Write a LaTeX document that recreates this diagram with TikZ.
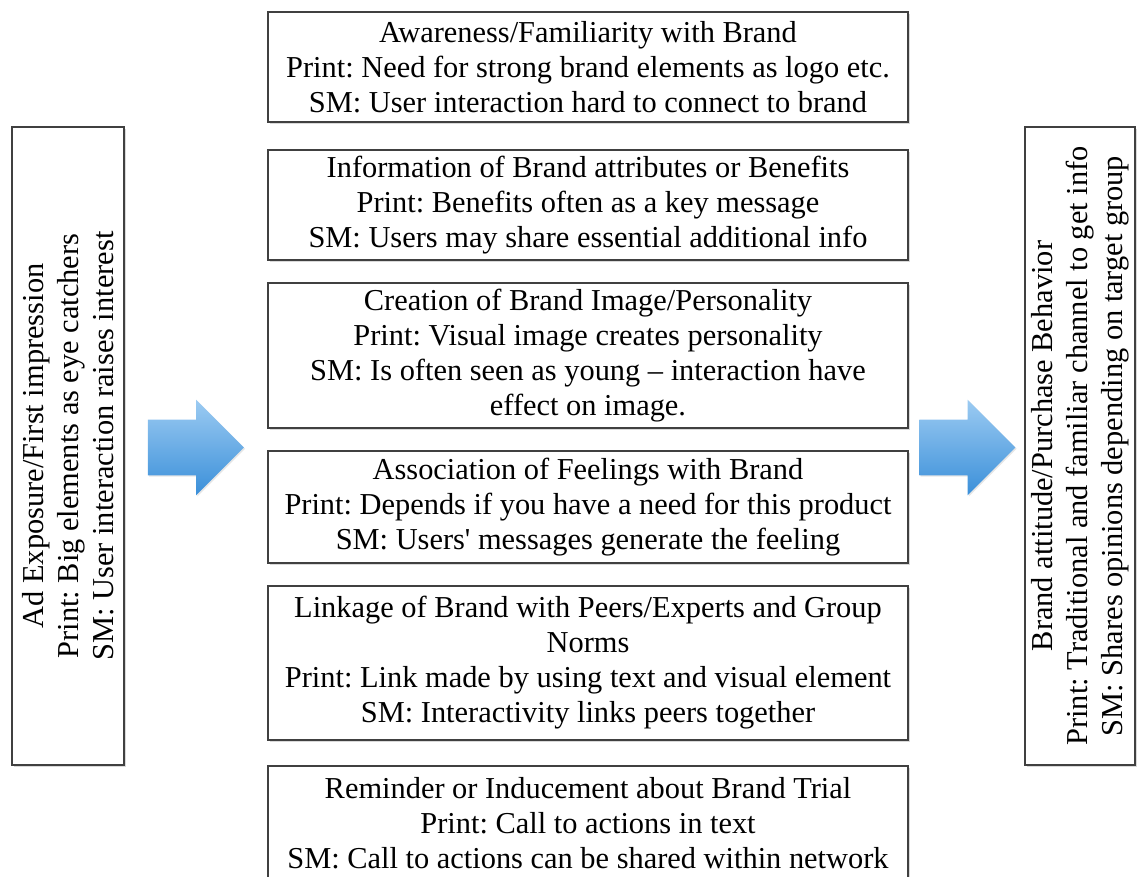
\documentclass[tikz,border=0pt]{standalone}
\usepackage{fontspec}
\setmainfont{Liberation Serif}
\usepackage{tikz,xcolor}
\usetikzlibrary{shapes.arrows,shadows}

\definecolor{arrowtop}{HTML}{9CCBF2}
\definecolor{arrowbot}{HTML}{3A8FD9}

\frenchspacing
\begin{document}
\begin{tikzpicture}[x=0.5pt, y=-0.5pt,
  box/.style={draw=black!75, line width=0.7pt, fill=white, align=center,
    inner sep=2pt, font=\fontsize{15.2}{17.5}\selectfont,
    drop shadow={shadow xshift=0.9pt, shadow yshift=-0.9pt, opacity=0.3}},
  midbox/.style={box, minimum width=320pt},
  flow/.style={single arrow, single arrow head extend=10pt, inner sep=0pt,
    inner ysep=13.75pt, minimum height=48pt, top color=arrowtop, bottom color=arrowbot,
    draw=none, drop shadow={shadow xshift=0.6pt, shadow yshift=-0.6pt, opacity=0.2}}]

\useasboundingbox (0,0) rectangle (1140,877);

% 左右两侧
\node[box, rotate=90, minimum width=319pt, minimum height=56pt] (expo) at (68,446)
  {Ad Exposure/First impression\\Print: Big elements as eye catchers\\SM: User interaction raises interest};
\node[box, rotate=90, minimum width=319pt, minimum height=55pt] (attit) at (1080,446)
  {Brand attitude/Purchase Behavior\\Print: Traditional and familiar channel to get info\\SM: Shares opinions depending on target group};

% 中间各框
\node[midbox, minimum height=55pt] (aware) at (588,67)
  {Awareness/Familiarity with Brand\\Print: Need for strong brand elements as logo etc.\\SM: User interaction hard to connect to brand};
\node[midbox, minimum height=55pt] (info) at (588,205)
  {Information of Brand attributes or Benefits\\Print: Benefits often as a key message\\SM: Users may share essential additional info};
\node[midbox, minimum height=72.5pt] (image) at (588,355.5)
  {Creation of Brand Image/Personality\\Print: Visual image creates personality\\SM: Is often seen as young -- interaction have\\effect on image.};
\node[midbox, minimum height=56pt] (feel) at (588,507)
  {Association of Feelings with Brand\\Print: Depends if you have a need for this product\\SM: Users\textquotesingle{} messages generate the feeling};
\node[midbox, minimum height=77pt] (peers) at (588,663)
  {Linkage of Brand with Peers/Experts and Group\\Norms\\Print: Link made by using text and visual element\\SM: Interactivity links peers together};
\node[midbox, minimum height=57pt] (trial) at (588,823)
  {Reminder or Inducement about Brand Trial\\Print: Call to actions in text\\SM: Call to actions can be shared within network};

% 箭头
\node[flow] (arrL) at (182,447.5) {};
\node[flow] (arrR) at (953.5,447.5) {};

\end{tikzpicture}
\end{document}
